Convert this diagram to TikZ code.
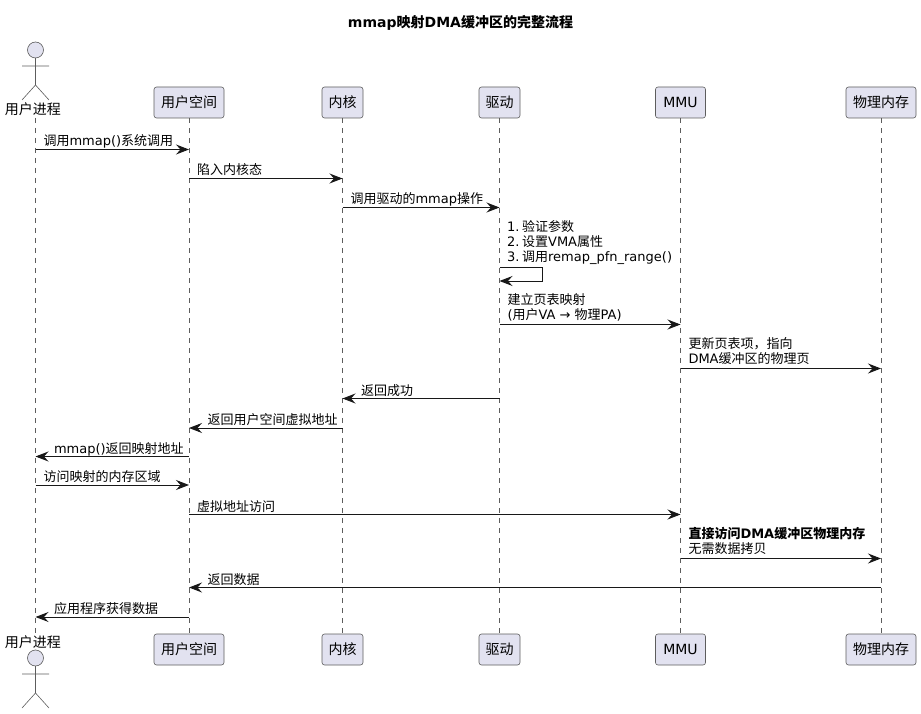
\documentclass[tikz,border=0pt]{standalone}
\usepackage{fontspec}
\setmainfont{DejaVu Sans}
\newfontfamily\cjk{Noto Sans CJK SC}
\newcommand{\zh}[1]{{\cjk #1}}
\usepackage{xcolor}
\usepackage{tikz}
\usetikzlibrary{arrows.meta, positioning, calc}
\definecolor{partFill}{HTML}{E2E2F0}
\definecolor{lineDark}{HTML}{181818}

\begin{document}
\begin{tikzpicture}[x=1pt, y=-1pt, >={Stealth[length=13pt, width=10pt, inset=4.5pt]}, font=\fontsize{13}{15}\selectfont, text=black]
        \tikzstyle{partBox} = [rectangle, draw=lineDark!70, line width=0.6pt, fill=partFill, rounded corners=2.5pt, minimum height=31pt, inner sep=0pt, font=\fontsize{14}{16}\selectfont]
        \tikzstyle{actorText} = [inner sep=0pt, font=\fontsize{14}{16}\selectfont]
        \tikzstyle{life} = [draw=lineDark!70, line width=0.6pt, dash pattern=on 5pt off 5pt]
        \tikzstyle{msg} = [->, draw=lineDark, line width=1pt]
        \tikzstyle{lblText} = [anchor=south west, align=left, inner sep=0pt, text depth=3pt]
        \tikzstyle{lblR} = [lblText, pos=0, xshift=7.5pt]
        \tikzstyle{lblL} = [lblText, pos=1, xshift=18pt]
        \tikzstyle{twoLine} = [yshift=2pt]
        \tikzstyle{actorLine} = [draw=lineDark!70, line width=0.6pt]

        \useasboundingbox (0,0) rectangle (921,714);

        \node[font=\fontsize{14}{16}\selectfont\bfseries, inner sep=0pt] (title) at (460.5,23) {mmap\zh{映射}DMA\zh{缓冲区的完整流程}};

        \node[actorText] (proc) at (33,109) {\zh{用户进程}};
        \node[partBox, minimum width=70pt] (user) at (189,102.5) {\zh{用户空间}};
        \node[partBox, minimum width=41pt] (kernel) at (342.5,102.5) {\zh{内核}};
        \node[partBox, minimum width=41pt] (driver) at (499.5,102.5) {\zh{驱动}};
        \node[partBox, minimum width=50pt] (mmu) at (680.5,102.5) {MMU};
        \node[partBox, minimum width=70pt] (mem) at (881,102.5) {\zh{物理内存}};

        \node[actorText] (procEnd) at (33,642) {\zh{用户进程}};
        \node[partBox, minimum width=70pt] (userEnd) at (189,649.5) {\zh{用户空间}};
        \node[partBox, minimum width=41pt] (kernelEnd) at (342.5,649.5) {\zh{内核}};
        \node[partBox, minimum width=41pt] (driverEnd) at (499.5,649.5) {\zh{驱动}};
        \node[partBox, minimum width=50pt] (mmuEnd) at (680.5,649.5) {MMU};
        \node[partBox, minimum width=70pt] (memEnd) at (881,649.5) {\zh{物理内存}};

        \coordinate (procTop) at (35.5,118);
        \coordinate (procBot) at (35.5,634);
        \draw[life] (procTop) -- (procBot);
        \draw[life] (user.south) -- (userEnd.north);
        \draw[life] (kernel.south) -- (kernelEnd.north);
        \draw[life] (driver.south) -- (driverEnd.north);
        \draw[life] (mmu.south) -- (mmuEnd.north);
        \draw[life] (mem.south) -- (memEnd.north);

        \draw[actorLine, fill=partFill] (35.5,50) circle (8);
        \draw[actorLine] (35.5,58) -- (35.5,85) (22,66) -- (49,66) (22,100) -- (35.5,85) -- (49,100);
        \draw[actorLine, fill=partFill] (35.5,658) circle (8);
        \draw[actorLine] (35.5,666) -- (35.5,693) (22,674) -- (49,674) (22,708) -- (35.5,693) -- (49,708);

        \foreach \rowName/\rowY in {r1/149.5, r2/178.5, r3/207.5, r4/324.5, r5/368.5, r6/398.5, r7/428, r8/456.5, r9/485, r10/514.5, r11/558.5, r12/587.5, r13/617, s1/267, s2/281}
            \coordinate (\rowName) at (0,\rowY);

        \draw[msg] (procTop |- r1) -- (user |- r1) node[lblR] (m1) {\zh{调用}mmap()\zh{系统调用}};
        \draw[msg] (user |- r2) -- (kernel |- r2) node[lblR] (m2) {\zh{陷入内核态}};
        \draw[msg] (kernel |- r3) -- (driver |- r3) node[lblR] (m3) {\zh{调用驱动的}mmap\zh{操作}};

        \coordinate (selfEast) at ($(driver |- s1)+(43,0)$);
        \draw[msg] (driver |- s1) -- (selfEast) -- (selfEast |- s2) -- (driver |- s2);
        \node[lblText, twoLine, xshift=7.5pt] (m4) at (driver |- s1) {1.\kern2.5pt\zh{验证参数}\\2.\kern2.5pt\zh{设置}VMA\zh{属性}\\3.\kern2.5pt\zh{调用}remap\_pfn\_range()};

        \draw[msg] (driver |- r4) -- (mmu |- r4) node[lblR, twoLine] (m5) {\zh{建立页表映射}\\(\zh{用户}VA → \zh{物理}PA)};
        \draw[msg] (mmu |- r5) -- (mem |- r5) node[lblR, twoLine] (m6) {\zh{更新页表项，指向}\\DMA\zh{缓冲区的物理页}};
        \draw[msg] (driver |- r6) -- (kernel |- r6) node[lblL] (m7) {\zh{返回成功}};
        \draw[msg] (kernel |- r7) -- (user |- r7) node[lblL] (m8) {\zh{返回用户空间虚拟地址}};
        \draw[msg] (user |- r8) -- (procTop |- r8) node[lblL] (m9) {mmap()\zh{返回映射地址}};
        \draw[msg] (procTop |- r9) -- (user |- r9) node[lblR] (m10) {\zh{访问映射的内存区域}};
        \draw[msg] (user |- r10) -- (mmu |- r10) node[lblR] (m11) {\zh{虚拟地址访问}};
        \draw[msg] (mmu |- r11) -- (mem |- r11) node[lblR, twoLine] (m12) {\textbf{\zh{直接访问}DMA\zh{缓冲区物理内存}}\\\zh{无需数据拷贝}};
        \draw[msg] (mem |- r12) -- (user |- r12) node[lblL] (m13) {\zh{返回数据}};
        \draw[msg] (user |- r13) -- (procTop |- r13) node[lblL] (m14) {\zh{应用程序获得数据}};
    \end{tikzpicture}
\end{document}
